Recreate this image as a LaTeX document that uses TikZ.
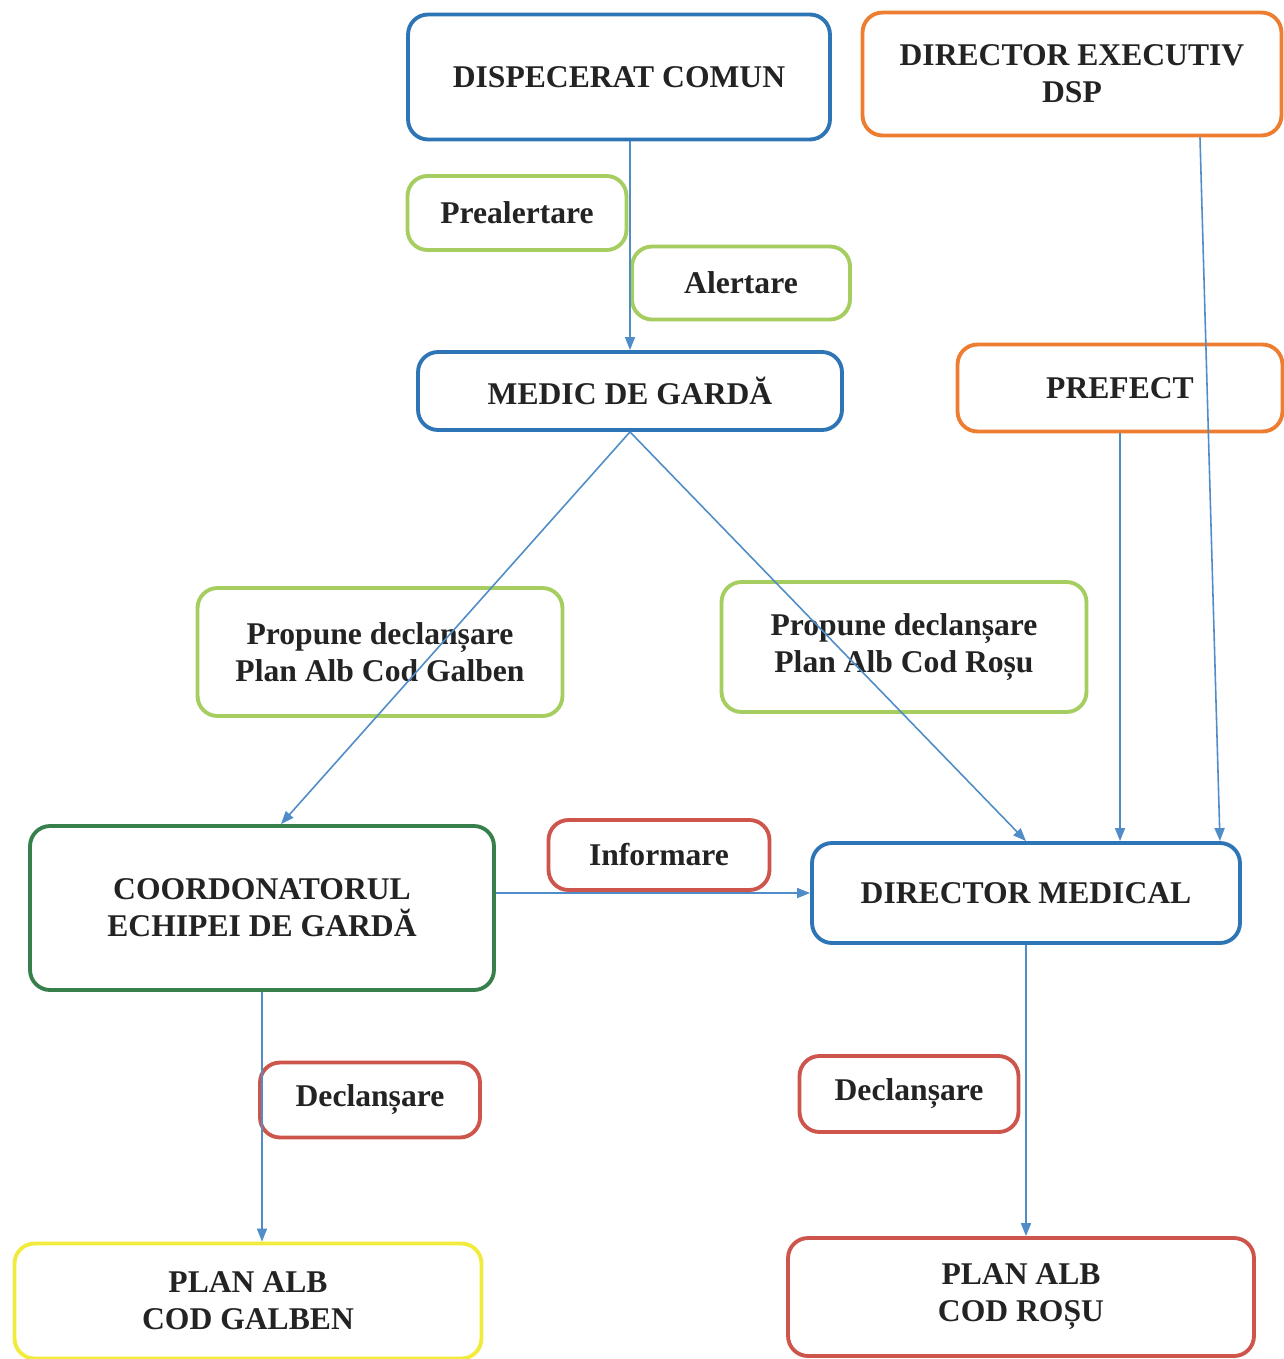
\documentclass[tikz,border=0pt]{standalone}
\usepackage{fontspec}
\setmainfont{Liberation Serif}
\usepackage{tikz}
\usetikzlibrary{arrows.meta,positioning,shapes}
\definecolor{boxblue}{RGB}{46,117,182}
\definecolor{boxorange}{RGB}{237,125,49}
\definecolor{boxlime}{RGB}{165,205,95}
\definecolor{boxgreen}{RGB}{55,128,75}
\definecolor{boxred}{RGB}{205,85,75}
\definecolor{boxyellow}{RGB}{240,235,60}
\definecolor{linkblue}{RGB}{80,140,200}
\definecolor{ink}{RGB}{35,35,35}
\tikzstyle{box}=[rectangle,draw,rounded corners=0.4cm,line width=2.2pt,align=center,inner sep=2pt,text=ink,font=\bfseries\fontsize{18}{21}\selectfont]
\tikzstyle{bluebox}=[box,draw=boxblue]
\tikzstyle{orangebox}=[box,draw=boxorange]
\tikzstyle{limebox}=[box,draw=boxlime]
\tikzstyle{greenbox}=[box,draw=boxgreen]
\tikzstyle{redbox}=[box,draw=boxred]
\tikzstyle{yellowbox}=[box,draw=boxyellow]
\tikzstyle{link}=[draw=linkblue,line width=0.9pt,-{Triangle[length=0.26cm,width=0.2cm]}]

\begin{document}
\begin{tikzpicture}[x=0.02cm,y=-0.02cm]
	\useasboundingbox (0,0) rectangle (1284,1359);
	\node[bluebox, minimum width=8.44cm, minimum height=2.5cm] at (619, 77) (disp) {DISPECERAT COMUN};
	\node[orangebox, minimum width=8.38cm, minimum height=2.46cm] at (1072, 74) (dsp) {DIRECTOR EXECUTIV\\DSP};
	\node[limebox, minimum width=4.38cm, minimum height=1.48cm] at (517, 213) (preal) {Prealertare};
	\node[limebox, minimum width=4.36cm, minimum height=1.46cm] at (741, 283) (alert) {Alertare};
	\node[bluebox, minimum width=8.48cm, minimum height=1.56cm] at (630, 391) (medic) {MEDIC DE GARDĂ};
	\node[orangebox, minimum width=6.5cm, minimum height=1.74cm] at (1120, 388) (prefect) {PREFECT};
	\node[limebox, minimum width=7.3cm, minimum height=2.56cm] at (380, 652) (propG) {Propune declanșare\\Plan Alb Cod Galben};
	\node[limebox, minimum width=7.3cm, minimum height=2.6cm] at (904, 647) (propR) {Propune declanșare\\Plan Alb Cod Roșu};
	\node[greenbox, minimum width=9.28cm, minimum height=3.28cm] at (262, 908) (coord) {COORDONATORUL\\ECHIPEI DE GARDĂ};
	\node[redbox, minimum width=4.42cm, minimum height=1.4cm] at (659, 855) (inform) {Informare};
	\node[bluebox, minimum width=8.56cm, minimum height=2cm] at (1026, 893) (dirmed) {DIRECTOR MEDICAL};
	\node[redbox, minimum width=4.4cm, minimum height=1.5cm] at (370, 1100) (declG) {Declanșare};
	\node[redbox, minimum width=4.38cm, minimum height=1.52cm] at (909, 1094) (declR) {Declanșare};
	\node[yellowbox, minimum width=9.34cm, minimum height=2.3cm] at (248, 1301) (galben) {PLAN ALB\\COD GALBEN};
	\node[redbox, minimum width=9.32cm, minimum height=2.36cm] at (1021, 1297) (rosu) {PLAN ALB\\COD ROȘU};

	\draw[link] (medic.north |- disp.south) -- (medic.north);
	\draw[link] (medic.south) -- ([xshift=0.38cm]coord.north);
	\draw[link] (medic.south) -- (dirmed.north);
	\draw[link] (prefect.south) -- (prefect.south |- dirmed.north);
	\draw[link] ([xshift=2.56cm]dsp.south) -- ([xshift=3.88cm]dirmed.north);
	\draw[link] (coord.east |- dirmed.west) -- (dirmed.west);
	\draw[link] (coord.south) -- (coord.south |- galben.north);
	\draw[link] (dirmed.south) -- (dirmed.south |- rosu.north);
\end{tikzpicture}
\end{document}
